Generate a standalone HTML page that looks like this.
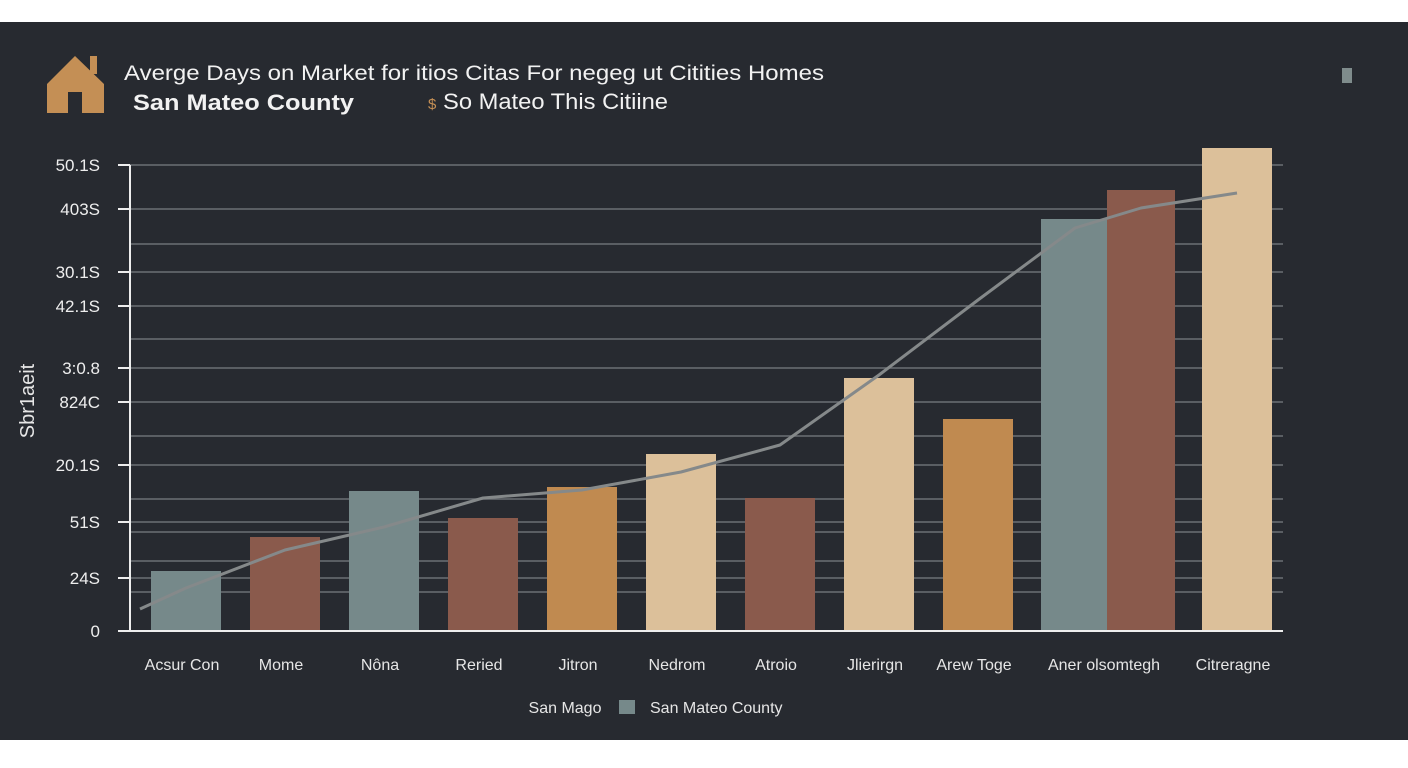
<!DOCTYPE html>
<html><head><meta charset="utf-8"><style>
html,body{margin:0;padding:0;background:#fff;}
body{width:1408px;height:768px;position:relative;overflow:hidden;font-family:"Liberation Sans",sans-serif;}
#panel{position:absolute;left:0;top:22px;width:1408px;height:718px;background:#272a30;}
svg{position:absolute;left:0;top:0;}
</style></head><body>
<div id="panel"></div>
<svg id="chart" width="1408" height="768">
  <g fill="#c48f55">
    <polygon points="47,84 75,56 104,84 104,113 82,113 82,92 68,92 68,113 47,113"/>
    <rect x="90" y="56" width="7" height="18"/>
  </g>
  <text x="124" y="80" fill="#f2f2f2" font-size="21" textLength="700" lengthAdjust="spacingAndGlyphs">Averge Days  on  Market  for itios Citas For negeg ut  Citities Homes</text>
  <text x="133" y="110" fill="#f2f2f2" font-size="22" font-weight="bold" textLength="221" lengthAdjust="spacingAndGlyphs">San  Mateo County</text>
  <text x="428" y="109" fill="#c48f55" font-size="15">$</text>
  <text x="443" y="109" fill="#f2f2f2" font-size="22" textLength="225" lengthAdjust="spacingAndGlyphs">So Mateo This Citiine</text>
  <rect x="1342" y="68" width="10" height="15" fill="#7f8c8c"/>
  <text transform="translate(34,401) rotate(-90)" text-anchor="middle" fill="#e6e6e6" font-size="20">Sbr1aeit</text>
  <g id="grid"></g><g id="bars"></g><g id="line"></g><g id="axes"></g>
  <g>
    <text x="565" y="713" text-anchor="middle" fill="#e6e6e6" font-size="16">San Mago</text>
    <rect x="619" y="700" width="16" height="14" fill="#76898a"/>
    <text x="650" y="713" fill="#e6e6e6" font-size="16">San Mateo  County</text>
  </g>
</svg>
<script>
const categories=["Acsur Con","Mome","Nôna","Reried","Jitron","Nedrom","Atroio","Jlierirgn","Arew Toge","Aner olsomtegh","Citreragne"];
const barValues=[60,94,140,113,144,177,133,253,212,412,441,483];
const barCategory=[0,1,2,3,4,5,6,7,8,9,9,10];
const barColors=["#76898a","#8a5a4c","#76898a","#8a5a4c","#c08a50","#dcc09a","#8a5a4c","#dcc09a","#c08a50","#76898a","#8a5a4c","#dcc09a"];
const lineValues=[43,81,104,133,141,159,186,256,331,403,423,438];
const tickValues=[0,53,109,166,229,263,325,359,422,466];
const tickLabels=["0","24S","51S","20.1S","824C","3:0.8","42.1S","30.1S","403S","50.1S"];
const gridValues=[39,70,99,132,195,292,387];
const NS="http://www.w3.org/2000/svg";
const y0=631,plotTop=131,xEnd=1283;
function yScale(v){return y0-(v/500)*(y0-plotTop);}
const slotW=[99,99,99,99,99,99,99,99,99,97,66,96];
function mk(tag,attrs,parent){const e=document.createElementNS(NS,tag);for(const k in attrs)e.setAttribute(k,attrs[k]);parent.appendChild(e);return e;}
const grid=document.getElementById('grid'),bars=document.getElementById('bars'),line=document.getElementById('line'),axes=document.getElementById('axes');
tickValues.concat(gridValues).forEach(v=>{if(v===0)return;const l=mk('line',{x1:130,x2:xEnd,y1:yScale(v),y2:yScale(v),stroke:'#6c6f74','stroke-width':1.5},grid);

});
const centers=[186];for(let i=1;i<barValues.length;i++)centers.push(centers[i-1]+slotW[i]);
barValues.forEach((v,i)=>{const w=i===9||i===10?68:70;const r=mk('rect',{x:centers[i]-w/2,y:yScale(v),width:w,height:y0-yScale(v),fill:barColors[i]},bars);

});
let d='M140,'+yScale(22);lineValues.forEach((v,i)=>{d+=' L'+centers[i]+','+yScale(v);});
const p=mk('path',{d:d,fill:'none',stroke:'#85898a','stroke-width':3,'stroke-linejoin':'round'},line);


const ya=mk('line',{x1:130,x2:130,y1:165,y2:y0,stroke:'#eee','stroke-width':2},axes);


const xa=mk('line',{x1:118,x2:xEnd,y1:y0,y2:y0,stroke:'#eee','stroke-width':2},axes);


tickValues.forEach((v,i)=>{const y=yScale(v);
 if(v!==0){const t=mk('line',{x1:118,x2:130,y1:y,y2:y,stroke:'#eee','stroke-width':2},axes);
 
 }
 const tx=mk('text',{x:100,y:y+6,'text-anchor':'end',fill:'#eee','font-size':17},axes);tx.textContent=tickLabels[i];
 
 });
categories.forEach((c,ci)=>{const idx=[];barCategory.forEach((b,i)=>{if(b===ci)idx.push(i);});
 const cx=idx.reduce((s,i)=>s+centers[i],0)/idx.length;
 const t=mk('text',{x:cx-4,y:670,'text-anchor':'middle',fill:'#e6e6e6','font-size':16},axes);t.textContent=c;
 
 });
</script>
</body></html>
